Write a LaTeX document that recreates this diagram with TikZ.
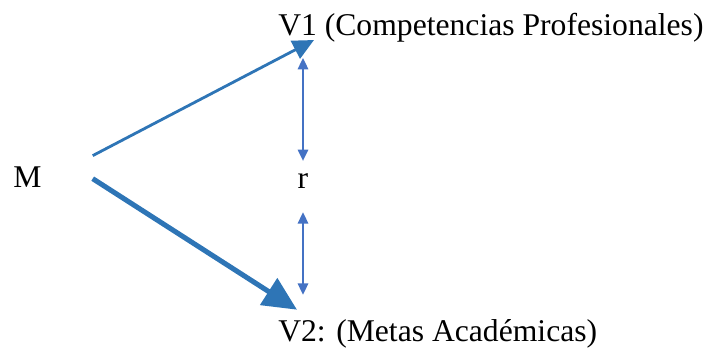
\documentclass[tikz,border=0pt]{standalone}
\usepackage{fontspec}
\setmainfont{Liberation Serif}
\usetikzlibrary{arrows.meta,positioning,calc}
\definecolor{Azul}{RGB}{46,117,182}
\definecolor{AzulRel}{RGB}{68,114,196}
\tikzset{
  etiqueta/.style={inner sep=0pt,font=\fontsize{22.5}{27}\selectfont},
  flecha/.style={-{Triangle[length=15pt,width=14pt]},Azul,line width=2pt},
  flechagrande/.style={-{Triangle[length=24pt,width=22pt]},Azul,line width=3.6pt},
  relflecha/.style={{Triangle[length=8pt,width=7.5pt]}-{Triangle[length=8pt,width=7.5pt]},
                    AzulRel,line width=1pt},
}
\begin{document}
\begin{tikzpicture}[x=0.025cm,y=-0.025cm]
  \useasboundingbox (0,0) rectangle (710,349);
  \node[etiqueta,anchor=base west] (M) at (13,187) {M};
  \node[etiqueta,anchor=base west] (V1) at (278,35) {V1 (Competencias Profesionales)};
  \node[etiqueta,anchor=base west] (V2) at (278,341) {V2: (Metas Académicas)};
  \node[etiqueta,anchor=base] (r) at (303,188) {r};
  %
  \coordinate (m1) at ($(M.east)+(51,-21)$);
  \coordinate (m2) at ($(M.east)+(51,2)$);
  \draw[flecha] (m1) -- ($(V1.south west)+(36,-2)$);
  \draw[flechagrande] (m2) -- ($(V2.north west)+(19,-9)$);
  %
  \draw[relflecha] ($(V1.south west)+(25,16)$) -- ($(r.north)+(0,-12)$);
  \draw[relflecha] ($(r.south)+(0,24)$) -- ($(V2.north west)+(25,-24)$);
\end{tikzpicture}
\end{document}
